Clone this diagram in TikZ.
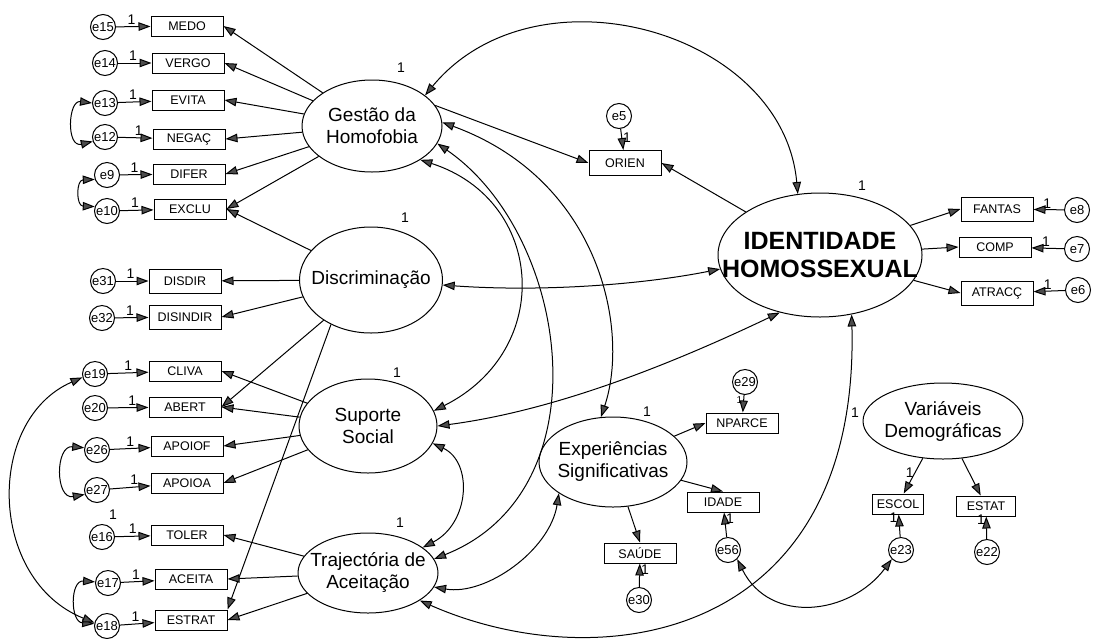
\documentclass[tikz,border=0pt]{standalone}
\usepackage{fontspec}
\setmainfont{Liberation Sans}
\usetikzlibrary{shapes.geometric,arrows.meta}
\definecolor{tipgray}{gray}{0.3}
\begin{document}
\begin{tikzpicture}[
    x=1pt, y=-1pt,
    line width=1pt,
    >={Triangle[length=12pt,width=8.5pt,fill=tipgray]},
    obs/.style={rectangle, draw, minimum width=72pt, minimum height=20pt, inner sep=0pt, font=\fontsize{12.5}{13}\selectfont},
    lat/.style={ellipse, draw, inner sep=0pt},
    lattext/.style={align=center, font=\fontsize{19}{22}\selectfont},
    err/.style={circle, draw, minimum size=25pt, inner sep=0pt, font=\fontsize{13}{13}\selectfont},
    one/.style={font=\fontsize{14}{14}\selectfont, inner sep=1pt},
    arrow/.style={->},
    cov/.style={<->}
]
    \useasboundingbox (0,0) rectangle (1094,638);

    \node[lat, minimum width=140pt, minimum height=92pt, label={[lattext]center:Gestão da\\Homofobia}] (gestao) at (372,126) {};
    \node[lat, minimum width=143pt, minimum height=106pt, label={[lattext]center:Discriminação}] (disc) at (371,280) {};
    \node[lat, minimum width=138pt, minimum height=94pt, label={[lattext]center:Suporte\\Social}] (suporte) at (368,426) {};
    \node[lat, minimum width=140pt, minimum height=80pt, label={[lattext]center:Trajectória de\\Aceitação}] (traj) at (368,573) {};
    \node[lat, minimum width=204pt, minimum height=124pt, label={[lattext, font=\fontsize{25}{28}\selectfont\bfseries]center:IDENTIDADE\\HOMOSSEXUAL}] (ident) at (820,255) {};
    \node[lat, minimum width=148pt, minimum height=90pt, label={[lattext]center:Experiências\\Significativas}] (exper) at (613,462) {};
    \node[lat, minimum width=160pt, minimum height=76pt, label={[lattext]center:Variáveis\\Demográficas}] (demog) at (943,421) {};

    \node[one] (vgestao) at (401,68) {1};
    \node[one] (vdisc) at (405,218) {1};
    \node[one] (vsuporte) at (397,373) {1};
    \node[one] (vtraj) at (400,523) {1};
    \node[one] (vident) at (862,186) {1};
    \node[one] (vexper) at (647,412) {1};
    \node[one] (vdemog) at (855,413) {1};
    \node[one] (extra16) at (113,515) {1};

    \node[obs] (medo) at (187,26) {MEDO};
    \node[obs] (vergo) at (188,63) {VERGO};
    \node[obs] (evita) at (188,100) {EVITA};
    \node[obs] (negac) at (189,139) {NEGAÇ};
    \node[obs] (difer) at (189,174) {DIFER};
    \node[obs] (exclu) at (190,209) {EXCLU};
    \node[obs, minimum height=24pt] (disdir) at (185,281) {DISDIR};
    \node[obs, minimum height=24pt] (disindir) at (185,317) {DISINDIR};
    \node[obs] (cliva) at (185,371) {CLIVA};
    \node[obs] (abert) at (185,407) {ABERT};
    \node[obs] (apoiof) at (187,446) {APOIOF};
    \node[obs] (apoioa) at (187,483) {APOIOA};
    \node[obs] (toler) at (187,535) {TOLER};
    \node[obs] (aceita) at (191,579) {ACEITA};
    \node[obs] (estrat) at (191,620) {ESTRAT};
    \node[obs, minimum height=25pt] (orien) at (625,163) {ORIEN};
    \node[obs, minimum height=24pt] (fantas) at (997,209) {FANTAS};
    \node[obs] (comp) at (995,247) {COMP};
    \node[obs, minimum height=24pt] (atracc) at (997,293) {ATRACÇ};
    \node[obs] (nparce) at (742,423) {NPARCE};
    \node[obs] (idade) at (723,502) {IDADE};
    \node[obs] (saude) at (640,553) {SAÚDE};
    \node[obs, minimum width=51pt] (escol) at (898,504) {ESCOL};
    \node[obs, minimum width=59pt] (estat) at (986,506) {ESTAT};

    \node[err] (e15) at (103,27) {e15};
    \node[err] (e14) at (105,63) {e14};
    \node[err] (e13) at (105,103) {e13};
    \node[err] (e12) at (105,137) {e12};
    \node[err] (e9) at (107,175) {e9};
    \node[err] (e10) at (107,211) {e10};
    \node[err] (e31) at (103,281) {e31};
    \node[err] (e32) at (102,318) {e32};
    \node[err] (e19) at (95,374) {e19};
    \node[err] (e20) at (95,408) {e20};
    \node[err] (e26) at (97,450) {e26};
    \node[err] (e27) at (97,490) {e27};
    \node[err] (e16) at (102,537) {e16};
    \node[err] (e17) at (108,583) {e17};
    \node[err] (e18) at (107,626) {e18};
    \node[err] (e5) at (619,116) {e5};
    \node[err] (e8) at (1077,210) {e8};
    \node[err] (e7) at (1077,249) {e7};
    \node[err] (e6) at (1078,290) {e6};
    \node[err] (e29) at (745,382) {e29};
    \node[err] (e56) at (728,550) {e56};
    \node[err] (e30) at (639,600) {e30};
    \node[err] (e23) at (901,550) {e23};
    \node[err] (e22) at (987,552) {e22};

    \draw[arrow] (e15) -- (medo) node[one, above=1pt, pos=0.45] {1};
    \draw[arrow] (e14) -- (vergo) node[one, above=1pt, pos=0.45] {1};
    \draw[arrow] (e13) -- (evita) node[one, above=1pt, pos=0.45] {1};
    \draw[arrow] (e12) -- (negac) node[one, above=1pt, pos=0.6] {1};
    \draw[arrow] (e9) -- (difer) node[one, above=1pt, pos=0.45] {1};
    \draw[arrow] (e10) -- (exclu) node[one, above=1pt, pos=0.45] {1};
    \draw[arrow] (e31) -- (disdir) node[one, above=1pt, pos=0.45] {1};
    \draw[arrow] (e32) -- (disindir) node[one, above=1pt, pos=0.45] {1};
    \draw[arrow] (e19) -- (cliva) node[one, above=1pt, pos=0.5] {1};
    \draw[arrow] (e20) -- (abert) node[one, above=1pt, pos=0.6] {1};
    \draw[arrow] (e26) -- (apoiof) node[one, above=1pt, pos=0.5] {1};
    \draw[arrow] (e27) -- (apoioa) node[one, above=1pt, pos=0.6] {1};
    \draw[arrow] (e16) -- (toler) node[one, above=1pt, pos=0.5] {1};
    \draw[arrow] (e17) -- (aceita) node[one, above=1pt, pos=0.45] {1};
    \draw[arrow] (e18) -- (estrat) node[one, above=1pt, pos=0.45] {1};
    \draw[arrow] (e5) -- (orien) node[one, right, pos=0.4] {1};
    \draw[arrow] (e8) -- (fantas) node[one, above, pos=0.55] {1};
    \draw[arrow] (e7) -- (comp) node[one, above, pos=0.55] {1};
    \draw[arrow] (e6) -- (atracc) node[one, above, pos=0.55] {1};
    \draw[arrow] (e29) -- (nparce) node[one, left, pos=0.3, font=\fontsize{10}{10}\selectfont] {1};
    \draw[arrow] (e56) -- (idade) node[one, right, pos=0.75] {1};
    \draw[arrow] (e30) -- (saude) node[one, right, pos=0.75] {1};
    \draw[arrow] (e23) -- (escol) node[one, left, pos=0.85] {1};
    \draw[arrow] (e22) -- (estat) node[one, left, pos=0.85] {1};

    \draw[arrow] (gestao) -- (medo.east);
    \draw[arrow] (gestao) -- (vergo.east);
    \draw[arrow] (gestao) -- (evita.east);
    \draw[arrow] (gestao) -- (negac.east);
    \draw[arrow] (gestao) -- (difer.east);
    \draw[arrow] (gestao) -- (exclu.east);
    \draw[arrow] (gestao.18) -- (orien.west);
    \draw[arrow] (disc) -- (exclu.east);
    \draw[arrow] (disc) -- (disdir);
    \draw[arrow] (disc) -- (disindir.east);
    \draw[arrow] (disc) -- (abert.east);
    \draw[arrow] (disc.-132) -- (estrat.north east);
    \draw[arrow] (suporte) -- (cliva.east);
    \draw[arrow] (suporte) -- (abert.east);
    \draw[arrow] (suporte) -- (apoiof.east);
    \draw[arrow] (suporte) -- (apoioa.east);
    \draw[arrow] (traj) -- (toler.east);
    \draw[arrow] (traj) -- (aceita.east);
    \draw[arrow] (traj) -- (estrat.east);
    \draw[arrow] (ident) -- (orien.east);
    \draw[arrow] (ident) -- (fantas.west);
    \draw[arrow] (ident) -- (comp.west);
    \draw[arrow] (ident) -- (atracc.west);
    \draw[arrow] (exper) -- (nparce.west);
    \draw[arrow] (exper) -- (idade.north);
    \draw[arrow] (exper) -- (saude.north);
    \draw[arrow] (demog) -- (escol) node[one, left, pos=0.4] {1};
    \draw[arrow] (demog) -- (estat);

    \draw[cov] (gestao.30) .. controls (535,-38) and (783,30) .. (ident.110);
    \draw[cov] (gestao.-35) .. controls (545,200) and (555,350) .. (suporte.13);
    \draw[cov] (gestao.-15) .. controls (570,235) and (606,491) .. (traj.12);
    \draw[cov] (gestao.3) .. controls (600,180) and (630,330) .. (exper.105);
    \draw[cov] (disc.-4) .. controls (540,292) and (640,285) .. (ident.188);
    \draw[cov] (suporte.0) .. controls (560,410) and (680,360) .. (ident.235);
    \draw[cov] (suporte.-15) .. controls (473,462) and (470,523) .. (traj.25);
    \draw[cov] (traj.-12) .. controls (486,596) and (550,550) .. (exper.210);
    \draw[cov] (traj.-28) .. controls (600,680) and (860,640) .. (ident.-62);
    \draw[cov] (e56.-45) .. controls (770,625) and (850,615) .. (e23.-135);
    \draw[cov] (e13.180) .. controls (68,100) and (66,148) .. (e12.200);
    \draw[cov] (e9.200) .. controls (76,180) and (76,206) .. (e10.160);
    \draw[cov] (e26.170) .. controls (55,445) and (55,500) .. (e27.200);
    \draw[cov] (e17.175) .. controls (70,580) and (70,622) .. (e18.170);
    \draw[cov] (e19.195) .. controls (-15,420) and (-12,580) .. (e18.165);
\end{tikzpicture}
\end{document}
